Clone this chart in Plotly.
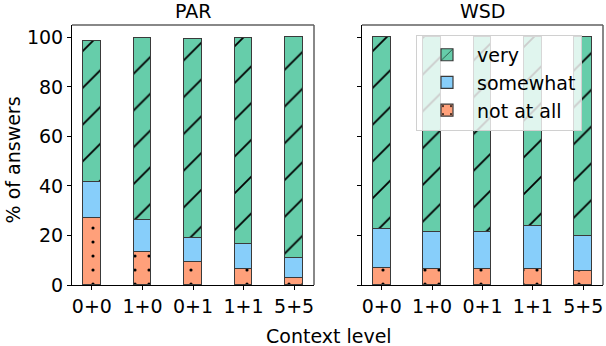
import plotly.graph_objects as go

categories = ["0+0", "1+0", "0+1", "1+1", "5+5"]
par_not = [26.9, 13.2, 9.2, 6.5, 2.7]
par_some = [14.5, 13.1, 9.7, 10.2, 8.1]
par_very = [57.3, 73.3, 80.4, 82.9, 89.2]
wsd_not = [6.9, 6.3, 6.5, 6.3, 5.8]
wsd_some = [15.9, 15.3, 15.1, 17.6, 13.9]
wsd_very = [77.2, 78.4, 78.4, 76.1, 80.3]
y_ticks = [0, 20, 40, 60, 80, 100]

series = ["not at all", "somewhat", "very"]
colors = {"very": "#66CDAA", "somewhat": "#87CEFA", "not at all": "#FFA07A"}
patterns = {
    "very": dict(shape="/", fgcolor="black", bgcolor="#66CDAA", size=26, solidity=0.07),
    "somewhat": dict(shape=""),
    "not at all": dict(shape=".", fgcolor="black", bgcolor="#FFA07A", size=14, solidity=0.04),
}

FONT = "DejaVu Sans"
fig = go.Figure()
x_idx = list(range(len(categories)))
for panel, data, xa in [("PAR", [par_not, par_some, par_very], "x"),
                        ("WSD", [wsd_not, wsd_some, wsd_very], "x2")]:
    for name, vals in zip(series, data):
        fig.add_trace(go.Bar(
            x=x_idx, y=vals, name=name, width=0.35,
            marker=dict(color=colors[name], line=dict(color="#3a3a3a", width=1.2),
                        pattern=patterns[name]),
            xaxis=xa, yaxis="y" if xa == "x" else "y2",
            showlegend=(panel == "WSD"), legendgroup=name,
        ))

ax_common = dict(range=[-0.3925, 4.3925], tickmode="array", tickvals=x_idx,
                 ticktext=categories, ticks="outside", ticklen=4, tickcolor="black",
                 showline=True, linecolor="black", linewidth=1, showgrid=False,
                 zeroline=False, tickfont=dict(size=19, color="black"), automargin=False)
ay_common = dict(range=[0, 105], tickmode="array", tickvals=y_ticks,
                 ticks="outside", ticklen=4, tickcolor="black", showline=True,
                 linecolor="black", linewidth=1, showgrid=False, zeroline=False,
                 tickfont=dict(size=19, color="black"), automargin=False)

d1 = (314 - 72) / 531
d2 = (362 - 72) / 531
fig.update_layout(
    template="none",
    barmode="stack",
    width=606, height=346,
    margin=dict(l=72, r=3, t=25, b=61, autoexpand=False),
    paper_bgcolor="white", plot_bgcolor="white",
    font=dict(family=FONT, size=19, color="black"),
    xaxis=dict(domain=[0, d1], anchor="y", **ax_common),
    xaxis2=dict(domain=[d2, 1], anchor="y2", **ax_common),
    yaxis=dict(domain=[0, 1], anchor="x", ticktext=[str(v) for v in y_ticks], **ay_common),
    yaxis2=dict(domain=[0, 1], anchor="x2", showticklabels=False, **ay_common),
    legend=dict(x=(416 - 72) / 531, y=0.962, xanchor="left", yanchor="top",
                traceorder="reversed", bgcolor="rgba(255,255,255,0.8)",
                bordercolor="#d0d0d0", borderwidth=1,
                font=dict(size=19, family=FONT), itemwidth=50, tracegroupgap=0),
    bargap=0,
)

# top/right spines (gray)
for xr, yr in [("x domain", "y domain"), ("x2 domain", "y2 domain")]:
    fig.add_shape(type="line", xref=xr, yref=yr, x0=0, x1=1, y0=1, y1=1,
                  line=dict(color="#606060", width=1.5))
    fig.add_shape(type="line", xref=xr, yref=yr, x0=1, x1=1, y0=0, y1=1,
                  line=dict(color="#606060", width=1.5))

# subplot titles
for title, xr in [("PAR", "x domain"), ("WSD", "x2 domain")]:
    fig.add_annotation(text=title, xref=xr, yref="paper", x=0.5, y=1, yshift=1,
                       yanchor="bottom", showarrow=False, font=dict(size=19, family=FONT))

fig.add_annotation(text="Context level", xref="paper", yref="paper",
                   x=(329 - 72) / 531, y=0, yshift=-38, yanchor="top",
                   showarrow=False, font=dict(size=19, family=FONT))
fig.add_annotation(text="% of answers", xref="paper", yref="paper",
                   x=0, xshift=-46, y=(284.5 - 160) / 259.8, textangle=-90,
                   xanchor="right", showarrow=False, font=dict(size=19, family=FONT))

fig.write_html("out.html", config={"displayModeBar": False},
               post_script="document.body.style.margin='0';")
